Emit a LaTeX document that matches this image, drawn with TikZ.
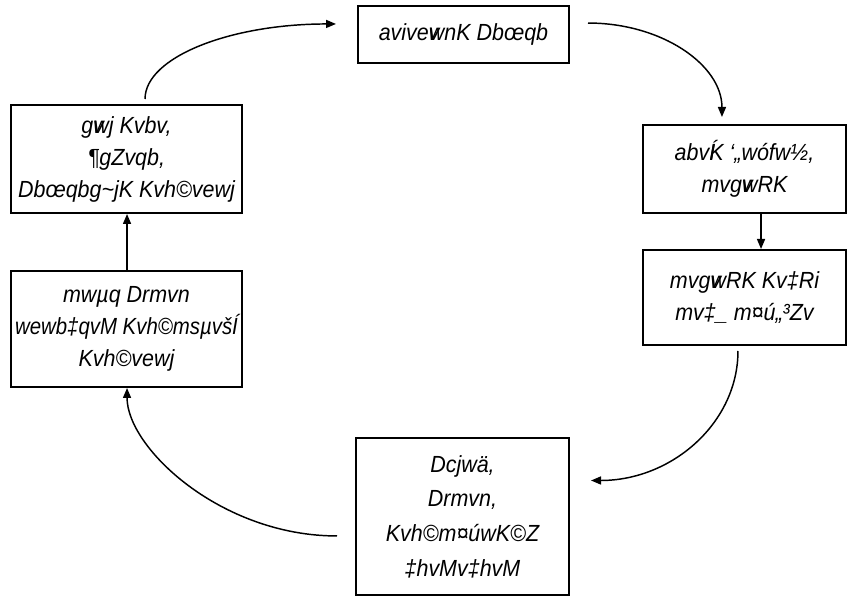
\documentclass[tikz,border=0pt]{standalone}
\usepackage{fontspec}
\usepackage{graphicx}
\setmainfont{Liberation Sans}[FakeStretch=0.92]
\usetikzlibrary{arrows.meta}
\newcommand{\ovw}{\rlap{v}w}
\tikzset{
  box/.style={draw=black, line width=1.5pt, align=center, inner sep=0pt, font=\itshape\fontsize{17.5}{24}\selectfont},
  conn/.style={line width=1.1pt, -{Triangle[length=7.5pt,width=6pt]}}
}
\begin{document}
\begin{tikzpicture}[x=0.75pt,y=-0.75pt]
\useasboundingbox (0,0) rectangle (851,598);
\node[box, minimum width=158.25pt, minimum height=42.75pt] (top) at (463.5,34.5) {avive\ovw nK Dbœqb};
\node[box, minimum width=152.25pt, minimum height=66pt] (ru) at (744.5,169) {abv\rlap{Í}K `„wófw½,\\mvg\ovw RK};
\node[box, minimum width=152.25pt, minimum height=71.25pt] (rl) at (744.5,297.5) {mvg\ovw RK Kv‡Ri\\mv‡\_ m¤ú„³Zv};
\node[box, minimum width=159.75pt, minimum height=117.75pt, font=\itshape\fontsize{17.5}{26}\selectfont] (bot) at (462.5,516.5) {Dcjwä,\\Drmvn,\\Kvh©m¤úwK©Z\\‡hvMv‡hvM};
\node[box, minimum width=173.25pt, minimum height=87pt] (ll) at (126.5,329) {mwµq Drmvn\\\makebox[0pt]{\scalebox{0.95}[1]{wewb‡qvM Kvh©msµvšÍ}}\\Kvh©vewj};
\node[box, minimum width=173.25pt, minimum height=81pt] (lu) at (126.5,159) {g\ovw j Kvbv,\\¶gZvqb,\\Dbœqbg\~{}jK Kvh©vewj};
% connectors
\draw[conn] ([xshift=13.9pt,yshift=3.75pt]lu.north) .. controls +(0,31.5pt) and +(-79pt,0) .. ([xshift=-15.75pt,yshift=7.9pt]top.west);
\draw[conn] ([xshift=13.5pt,yshift=8.6pt]top.east) .. controls +(55.5pt,0) and +(0,39pt) .. ([xshift=-16.9pt,yshift=5.25pt]ru.north);
\draw[conn] ([xshift=12.4pt]ru.south) -- ([xshift=12.4pt]rl.north);
\draw[conn] ([xshift=-4.9pt,yshift=-3.75pt]rl.south) .. controls +(0,-53.6pt) and +(61pt,0) .. ([xshift=15.75pt,yshift=27pt]bot.east);
\draw[conn] ([xshift=-13.5pt,yshift=-14.6pt]bot.west) .. controls +(-87pt,0) and +(0,-45pt) .. ([xshift=0.4pt]ll.south);
\draw[conn] ([xshift=0.4pt]ll.north) -- ([xshift=0.4pt]lu.south);
\end{tikzpicture}
\end{document}
